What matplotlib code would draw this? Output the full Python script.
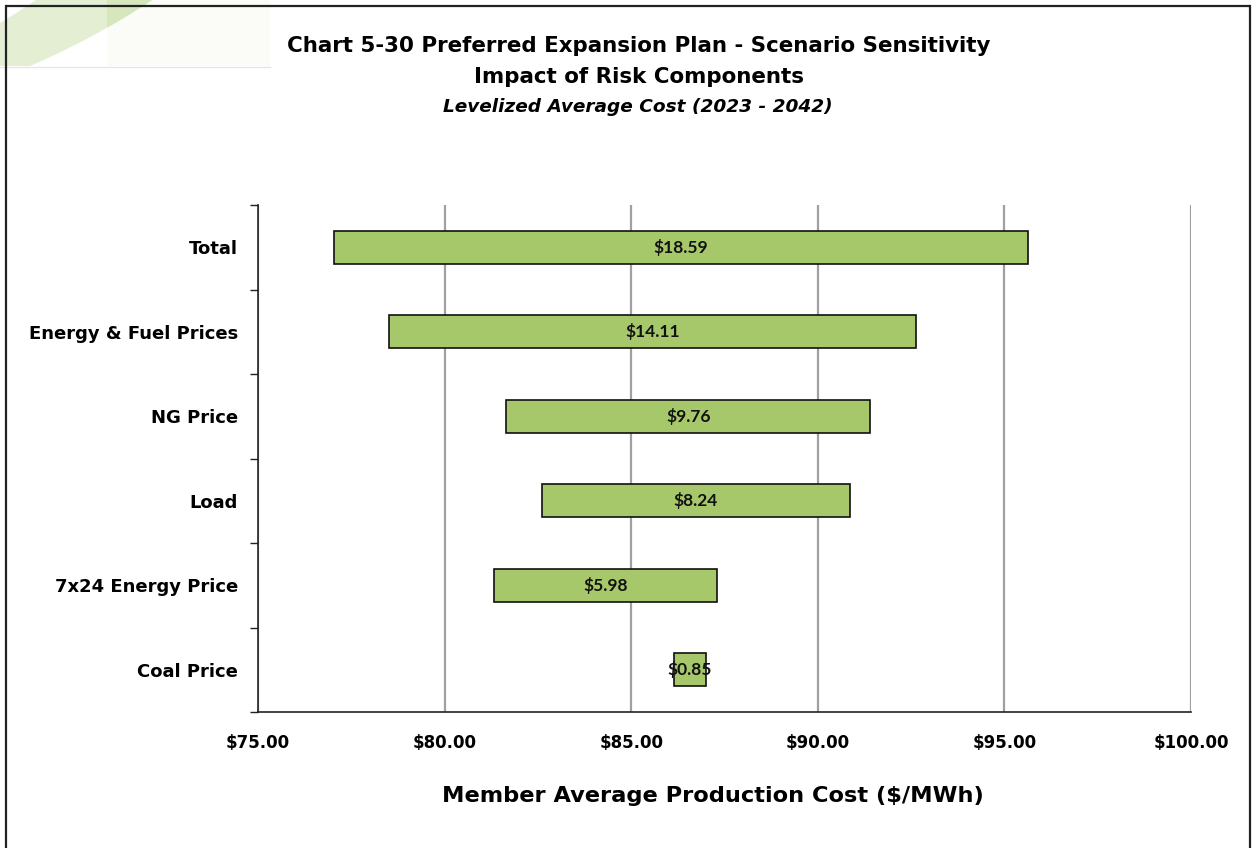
import matplotlib
matplotlib.use("Agg")
import matplotlib.pyplot as plt
from matplotlib.patches import Polygon, Rectangle
import numpy as np

# Sensitivity ranges of levelized member average production cost ($/MWh)
categories = ["Total", "Energy & Fuel Prices", "NG Price", "Load",
              "7x24 Energy Price", "Coal Price"]
low_values = [77.04, 78.51, 81.65, 82.61, 81.33, 86.15]
range_values = [18.59, 14.11, 9.76, 8.24, 5.98, 0.85]
x_ticks = [75, 80, 85, 90, 95, 100]

W, H = 1257, 848
fig = plt.figure(figsize=(W / 100, H / 100), dpi=100)
fig.patch.set_facecolor("white")

# Background decoration layer in pixel coordinates
bg = fig.add_axes([0, 0, 1, 1], zorder=0)
bg.set_xlim(0, W)
bg.set_ylim(H, 0)
bg.axis("off")

t = np.linspace(0, 1, 40)
# outer edge of the green swoosh
p0, p1, p2 = np.array([30, 66]), np.array([95, 38]), np.array([152, 0])
outer = ((1 - t) ** 2)[:, None] * p0 + (2 * (1 - t) * t)[:, None] * p1 + (t ** 2)[:, None] * p2
# inner edge
q0, q1, q2 = np.array([0, 23]), np.array([18, 12]), np.array([36, 0])
inner = ((1 - t) ** 2)[:, None] * q0 + (2 * (1 - t) * t)[:, None] * q1 + (t ** 2)[:, None] * q2
band = np.vstack([[0, 66], outer, inner[::-1]])
swoosh = Polygon(band, closed=True, facecolor="#E3EED3", edgecolor="none")
bg.add_patch(swoosh)
swoosh2 = Polygon(band, closed=True, facecolor="#D6E7BD", edgecolor="none")
bg.add_patch(swoosh2)
swoosh2.set_clip_path(Rectangle((107, 0), 60, 66, transform=bg.transData))
bg.add_patch(Rectangle((107, 0), 163, 66, facecolor="#FBFBF8", edgecolor="none", zorder=-1))
bg.plot([0, 270], [66.5, 66.5], color="#E6E6E6", lw=1)

# outer frame
bg.plot([6, 1250], [6, 6], color="#222222", lw=1.6, solid_capstyle="butt")
bg.plot([6, 6], [6, H], color="#222222", lw=1.6)
bg.plot([1250, 1250], [6, H], color="#222222", lw=1.6)

# Main chart
ax = fig.add_axes([258 / W, 1 - 712 / H, (1191 - 258) / W, (712 - 205) / H], zorder=1)
ax.set_facecolor("none")
y = np.arange(len(categories))
bars = ax.barh(y, range_values, left=low_values, height=0.39,
               color="#A6C76A", edgecolor="#111111", linewidth=1.2, zorder=3)

for yi, lo, rng in zip(y, low_values, range_values):
    ax.text(lo + rng / 2, yi, f"${rng:.2f}", ha="center", va="center",
            fontsize=12.5, fontweight="bold", family="Lato", color="#111111", zorder=4)

ax.set_xlim(75, 100)
ax.set_ylim(len(categories) - 0.5, -0.5)
ax.set_xticks(x_ticks)
ax.set_xticklabels([f"${v:.2f}" for v in x_ticks], fontsize=12, fontweight="bold",
                   family="DejaVu Sans")
ax.tick_params(axis="x", length=0, pad=16)
ax.xaxis.grid(True, color="#A0A0A0", linewidth=1.6, zorder=0)
ax.set_axisbelow(True)

ax.set_yticks(y)
ax.set_yticklabels(categories, fontsize=13, fontweight="bold", family="DejaVu Sans")
ax.tick_params(axis="y", which="major", length=0, pad=14.5)
ax.set_yticks(np.arange(-0.5, len(categories), 1.0), minor=True)
ax.tick_params(axis="y", which="minor", length=6, width=1, direction="out", color="#222222")

for s in ["top", "right"]:
    ax.spines[s].set_visible(False)
ax.spines["left"].set_color("#222222")
ax.spines["bottom"].set_color("#222222")
ax.spines["left"].set_linewidth(1.2)
ax.spines["bottom"].set_linewidth(1.2)

ax.set_xlabel("Member Average Production Cost ($/MWh)", fontsize=16.2, fontweight="bold",
              family="DejaVu Sans")
ax.xaxis.set_label_coords((713 - 258) / (1191 - 258), -(796 - 712) / (712 - 205))
ax.xaxis.label.set_va("center")

# Titles
fig.text(639 / W, 1 - 46 / H, "Chart 5-30 Preferred Expansion Plan - Scenario Sensitivity",
         ha="center", va="center", fontsize=15.4, fontweight="bold", family="DejaVu Sans")
fig.text(639 / W, 1 - 77 / H, "Impact of Risk Components",
         ha="center", va="center", fontsize=15.4, fontweight="bold", family="DejaVu Sans")
fig.text(638 / W, 1 - 107 / H, "Levelized Average Cost (2023 - 2042)",
         ha="center", va="center", fontsize=13.3, fontstyle="italic", fontweight="semibold",
         family="DejaVu Sans")

fig.savefig("out.png", dpi=100)
